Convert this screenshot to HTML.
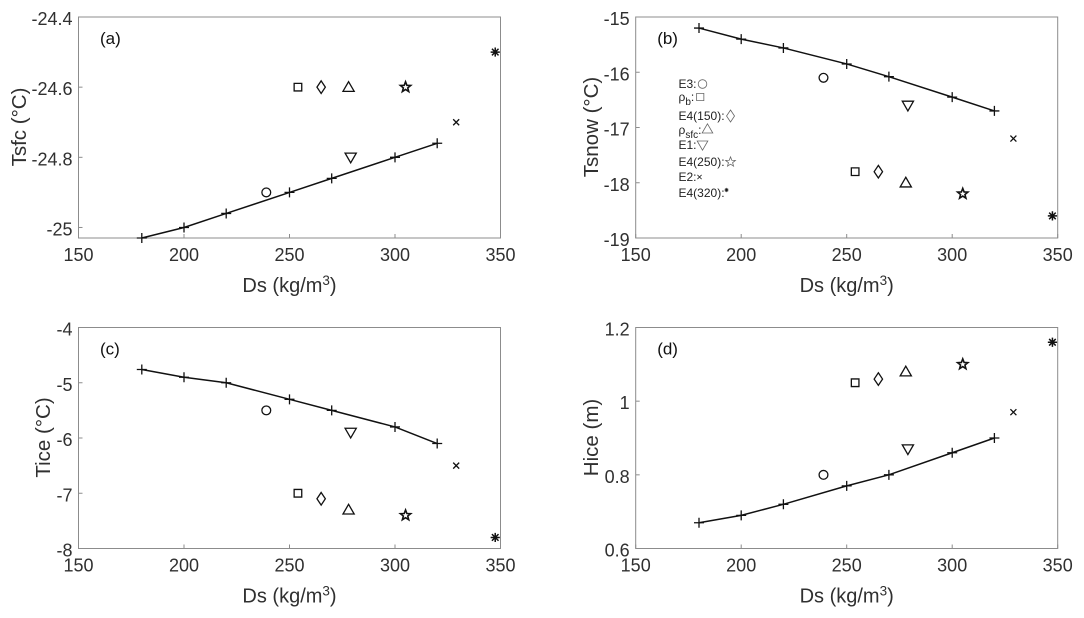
<!DOCTYPE html>
<html>
<head>
<meta charset="utf-8">
<title>Ds sensitivity panels</title>
<style>
html,body{margin:0;padding:0;background:#fff;}
svg{display:block;font-family:"Liberation Sans",Arial,sans-serif;filter:blur(0.3px);}
</style>
</head>
<body>
<svg id="fig" xmlns="http://www.w3.org/2000/svg" width="1084" height="618" viewBox="0 0 1084 618"></svg>
<script>
const lineDs = [180, 200, 220, 250, 270, 300, 320];
const pointDs = [239, 254, 265, 278, 279, 305, 329, 347.5];
const pointKinds = ['circle', 'square', 'diamond', 'up', 'down', 'star', 'cross', 'aster'];
const xTicks = [150, 200, 250, 300, 350];

const tsfcLine = [-25.03, -25, -24.96, -24.9, -24.86, -24.8, -24.76];
const tsfcPoints = [-24.9, -24.6, -24.6, -24.6, -24.8, -24.6, -24.7, -24.5];
const tsfcTicks = [-25, -24.8, -24.6, -24.4];

const tsnowLine = [-15.2, -15.4, -15.56, -15.85, -16.08, -16.45, -16.7];
const tsnowPoints = [-16.1, -17.8, -17.8, -18, -16.6, -18.2, -17.2, -18.6];
const tsnowTicks = [-19, -18, -17, -16, -15];

const ticeLine = [-4.76, -4.9, -5, -5.3, -5.5, -5.8, -6.1];
const ticePoints = [-5.5, -7, -7.1, -7.3, -5.9, -7.4, -6.5, -7.8];
const ticeTicks = [-8, -7, -6, -5, -4];

const hiceLine = [0.67, 0.69, 0.72, 0.77, 0.8, 0.86, 0.9];
const hicePoints = [0.8, 1.05, 1.06, 1.08, 0.87, 1.1, 0.97, 1.16];
const hiceTicks = [0.6, 0.8, 1, 1.2];

const svg = document.getElementById('fig');
const NS = 'http://www.w3.org/2000/svg';

function mk(tag, attrs, parent) {
  const el = document.createElementNS(NS, tag);
  for (const k in attrs) el.setAttribute(k, attrs[k]);
  (parent || svg).appendChild(el);
  return el;
}

function starPath(cx, cy, R, r) {
  let d = '';
  for (let i = 0; i < 10; i++) {
    const a = -Math.PI / 2 + i * Math.PI / 5;
    const q = i % 2 ? r : R;
    d += (i ? 'L' : 'M') + (cx + q * Math.cos(a)).toFixed(2) + ' ' + (cy + q * Math.sin(a)).toFixed(2);
  }
  return d + 'Z';
}

function markerPath(kind, x, y, s) {
  const k = s || 1;
  if (kind === 'square') return `M${x-3.8*k} ${y-3.8*k}h${7.6*k}v${7.6*k}h${-7.6*k}Z`;
  if (kind === 'diamond') return `M${x} ${y-6.3*k}L${x+4.2*k} ${y}L${x} ${y+6.3*k}L${x-4.2*k} ${y}Z`;
  if (kind === 'up') return `M${x} ${y-5.5*k}L${x+5.6*k} ${y+4.2*k}L${x-5.6*k} ${y+4.2*k}Z`;
  if (kind === 'down') return `M${x} ${y+5.5*k}L${x+5.6*k} ${y-4.2*k}L${x-5.6*k} ${y-4.2*k}Z`;
  if (kind === 'star') return starPath(x, y, 5.4 * k, 2.3 * k);
  if (kind === 'cross') return `M${x-3*k} ${y-3*k}L${x+3*k} ${y+3*k}M${x-3*k} ${y+3*k}L${x+3*k} ${y-3*k}`;
  if (kind === 'aster') return `M${x-4.6*k} ${y}H${x+4.6*k}M${x} ${y-4.6*k}V${y+4.6*k}M${x-3.3*k} ${y-3.3*k}L${x+3.3*k} ${y+3.3*k}M${x-3.3*k} ${y+3.3*k}L${x+3.3*k} ${y-3.3*k}`;
  return '';
}

function drawMarker(kind, x, y, parent) {
  if (kind === 'circle') {
    const c = mk('circle', { cx: x, cy: y, r: 4.4, fill: 'none', stroke: '#111', 'stroke-width': 1.3 }, parent);
    
    
    return;
  }
  const heavy = kind === 'aster' ? 1.5 : (kind === 'star' ? 1.6 : 1.3);
  const p = mk('path', { d: markerPath(kind, x, y), fill: 'none', stroke: '#111', 'stroke-width': heavy }, parent);
  
  
}

function drawPanel(cfg) {
  const g = mk('g', {});
  
  
  const L = cfg.left, R = cfg.left + 422, T = cfg.top, B = cfg.top + 221;
  const X = v => L + (v - 150) / 200 * (R - L);
  const Y = v => T + (cfg.yMax - v) / (cfg.yMax - cfg.yMin) * (B - T);

  const box = mk('rect', { x: L, y: T, width: R - L, height: B - T, fill: '#fff', stroke: '#8c8c8c', 'stroke-width': 1 }, g);
  
  

  xTicks.forEach(t => {
    const tick = mk('line', { x1: X(t), x2: X(t), y1: B, y2: B - 4, stroke: '#8c8c8c' }, g);
    
    
    const lab = mk('text', { x: X(t), y: B + 23, 'text-anchor': 'middle', 'font-size': 18, fill: '#303030' }, g);
    
    
    lab.textContent = t;
  });
  cfg.ticks.forEach(t => {
    const tick = mk('line', { x1: L, x2: L + 4, y1: Y(t), y2: Y(t), stroke: '#8c8c8c' }, g);
    
    
    const lab = mk('text', { x: L - 6, y: Y(t) + 8, 'text-anchor': 'end', 'font-size': 18, fill: '#303030' }, g);
    
    
    lab.textContent = t;
  });

  const xl = mk('text', { x: L + 211, y: B + 54, 'text-anchor': 'middle', 'font-size': 20, fill: '#303030' }, g);
  
  
  xl.textContent = 'Ds (kg/m';
  const sup = mk('tspan', { dy: -7, 'font-size': 13.5 }, xl);
  sup.textContent = '3';
  const close = mk('tspan', { dy: 7 }, xl);
  close.textContent = ')';

  const yl = mk('text', { transform: `translate(${cfg.ylx},${T + 110}) rotate(-90)`, 'text-anchor': 'middle', 'font-size': 20.5, fill: '#303030' }, g);
  
  
  yl.textContent = cfg.yTitle;

  const pl = mk('text', { x: L + 21.5, y: T + 27, 'font-size': 17, fill: '#111' }, g);
  
  
  pl.textContent = '(' + cfg.id + ')';

  const pts = lineDs.map((d, i) => X(d).toFixed(2) + ',' + Y(cfg.line[i]).toFixed(2)).join(' ');
  const line = mk('polyline', { points: pts, fill: 'none', stroke: '#111', 'stroke-width': 1.5 }, g);
  
  
  lineDs.forEach((d, i) => {
    const x = X(d), y = Y(cfg.line[i]);
    const plus = mk('path', { d: `M${x-5} ${y}H${x+5}M${x} ${y-5}V${y+5}`, stroke: '#111', 'stroke-width': 1.3, fill: 'none' }, g);
    
    
  });
  pointDs.forEach((d, i) => drawMarker(pointKinds[i], X(d), Y(cfg.points[i]), g));
}

drawPanel({ id: 'a', left: 78.5, top: 17, yMin: -25.03, yMax: -24.4, ticks: tsfcTicks, line: tsfcLine, points: tsfcPoints, yTitle: 'Tsfc (°C)', ylx: 26 });
drawPanel({ id: 'b', left: 635.7, top: 17, yMin: -19, yMax: -15, ticks: tsnowTicks, line: tsnowLine, points: tsnowPoints, yTitle: 'Tsnow (°C)', ylx: 598 });
drawPanel({ id: 'c', left: 78.5, top: 327.5, yMin: -8, yMax: -4, ticks: ticeTicks, line: ticeLine, points: ticePoints, yTitle: 'Tice (°C)', ylx: 50 });
drawPanel({ id: 'd', left: 635.7, top: 327.5, yMin: 0.6, yMax: 1.2, ticks: hiceTicks, line: hiceLine, points: hicePoints, yTitle: 'Hice (m)', ylx: 598 });

const legendGroup = mk('g', {});


const legendLabels = ['E3:', 'ρ|b|:', 'E4(150):', 'ρ|sfc|:', 'E1:', 'E4(250):', 'E2:', 'E4(320):'];
const legendRows = [88, 101, 120, 134, 149, 166, 181, 197];
const legendKinds = ['circle', 'square', 'diamond', 'up', 'down', 'star', 'cross', 'aster'];
legendLabels.forEach((s, i) => {
  const parts = s.split('|');
  const t = mk('text', { x: 678.5, y: legendRows[i], 'font-size': 12, fill: '#222' }, legendGroup);
  
  
  t.textContent = parts[0];
  if (parts.length > 1) {
    const sub = mk('tspan', { dy: 4, 'font-size': 10 }, t);
    sub.textContent = parts[1];
    const end = mk('tspan', { dy: -4 }, t);
    end.textContent = parts[2];
  }
  const w = t.getComputedTextLength();
  const kind = legendKinds[i];
  const cx = 678.5 + w + (kind === 'cross' ? 3 : (kind === 'aster' ? 2 : 6));
  const cy = legendRows[i] - 4;
  if (kind === 'circle') {
    const c = mk('circle', { cx: cx, cy: cy, r: 4.3, fill: 'none', stroke: '#666', 'stroke-width': 0.8 }, legendGroup);
    
    
  } else {
    const small = kind === 'cross' ? 0.7 : (kind === 'aster' ? 0.45 : 0.95);
    const strokeCol = (kind === 'cross' || kind === 'aster') ? '#111' : '#666';
    const cyy = kind === 'aster' ? cy - 3 : (kind === 'up' ? cy - 1 : cy);
    const p = mk('path', { d: markerPath(kind, cx, cyy, small), fill: 'none', stroke: strokeCol, 'stroke-width': kind === 'aster' ? 0.7 : 0.8 }, legendGroup);
    
    
  }
});
</script>
</body>
</html>
